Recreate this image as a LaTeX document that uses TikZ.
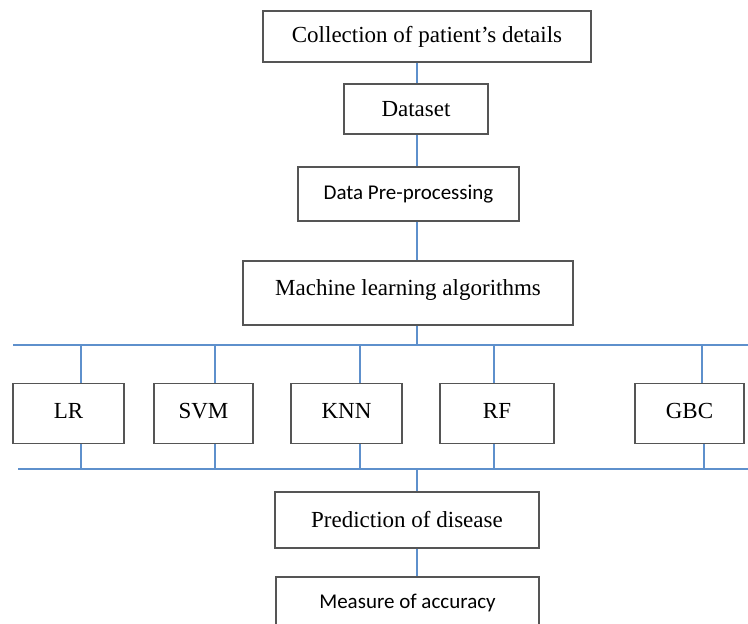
\documentclass[tikz,border=0pt]{standalone}
\usepackage{fontspec}
\setmainfont{Liberation Serif}
\newfontfamily\calib{Carlito}
\definecolor{busblue}{RGB}{94,144,204}
\definecolor{boxgray}{RGB}{85,85,85}
\begin{document}
\begin{tikzpicture}[x=1pt,y=-1pt,
  box/.style={draw=boxgray, line width=1.4pt, fill=white, inner sep=0pt, font=\fontsize{23}{26}\selectfont},
  cbox/.style={box, font=\calib\fontsize{21}{24}\selectfont},
  link/.style={draw=busblue, line width=1.5pt}]
\useasboundingbox (0,0) rectangle (748,624);
\clip (0,0) rectangle (748,624);
\coordinate (spine) at (417,0);
\coordinate (topbus) at (0,345);
\coordinate (botbus) at (0,469);
\coordinate (tl) at (13,345);
\coordinate (tr) at (748,345);
\coordinate (bl) at (18,469);
\coordinate (br) at (748,469);
% top chain
\node[box, minimum width=328, minimum height=51] (coll) at (427,36.5) {Collection of patient’s details};
\node[box, minimum width=144, minimum height=50] (data) at (416,109) {Dataset};
\node[cbox, minimum width=221, minimum height=54] (pre) at (408.5,194) {Data Pre-processing};
\node[box, minimum width=330, minimum height=64] (ml) at (408,293) {\raisebox{11pt}{Machine learning algorithms}};
% algorithm boxes
\node[box, minimum width=111, minimum height=60] (lr) at (68.5,413.5) {\raisebox{6pt}{LR}};
\node[box, minimum width=99, minimum height=60] (svm) at (203.5,413.5) {\raisebox{6pt}{SVM}};
\node[box, minimum width=111, minimum height=60] (knn) at (346.5,413.5) {\raisebox{6pt}{KNN}};
\node[box, minimum width=114, minimum height=60] (rf) at (497,413.5) {\raisebox{6pt}{RF}};
\node[box, minimum width=109, minimum height=60] (gbc) at (689.5,413.5) {\raisebox{6pt}{GBC}};
% bottom chain
\node[box, minimum width=264, minimum height=56] (pred) at (407,520) {Prediction of disease};
\node[cbox, minimum width=263, minimum height=63] (meas) at (407.5,608.5) {\raisebox{14pt}{Measure of accuracy}};
% connectors
\draw[link] (coll.south -| spine) -- (data.north -| spine);
\draw[link] (data.south -| spine) -- (pre.north -| spine);
\draw[link] (pre.south -| spine) -- (ml.north -| spine);
\draw[link] (ml.south -| spine) -- (topbus -| spine);
\draw[link] (tl) -- (tr);
\draw[link] (bl) -- (br);
\draw[link] ([xshift=12.5pt]lr.north) -- ([xshift=12.5pt]lr.north |- topbus);
\draw[link] ([xshift=11.5pt]svm.north) -- ([xshift=11.5pt]svm.north |- topbus);
\draw[link] ([xshift=13.5pt]knn.north) -- ([xshift=13.5pt]knn.north |- topbus);
\draw[link] ([xshift=-3pt]rf.north) -- ([xshift=-3pt]rf.north |- topbus);
\draw[link] ([xshift=12.5pt]gbc.north) -- ([xshift=12.5pt]gbc.north |- topbus);
\draw[link] ([xshift=12.5pt]lr.south) -- ([xshift=12.5pt]lr.south |- botbus);
\draw[link] ([xshift=11.5pt]svm.south) -- ([xshift=11.5pt]svm.south |- botbus);
\draw[link] ([xshift=13.5pt]knn.south) -- ([xshift=13.5pt]knn.south |- botbus);
\draw[link] ([xshift=-3pt]rf.south) -- ([xshift=-3pt]rf.south |- botbus);
\draw[link] ([xshift=14.5pt]gbc.south) -- ([xshift=14.5pt]gbc.south |- botbus);
\draw[link] (botbus -| spine) -- (pred.north -| spine);
\draw[link] (pred.south -| spine) -- (meas.north -| spine);
\end{tikzpicture}
\end{document}
